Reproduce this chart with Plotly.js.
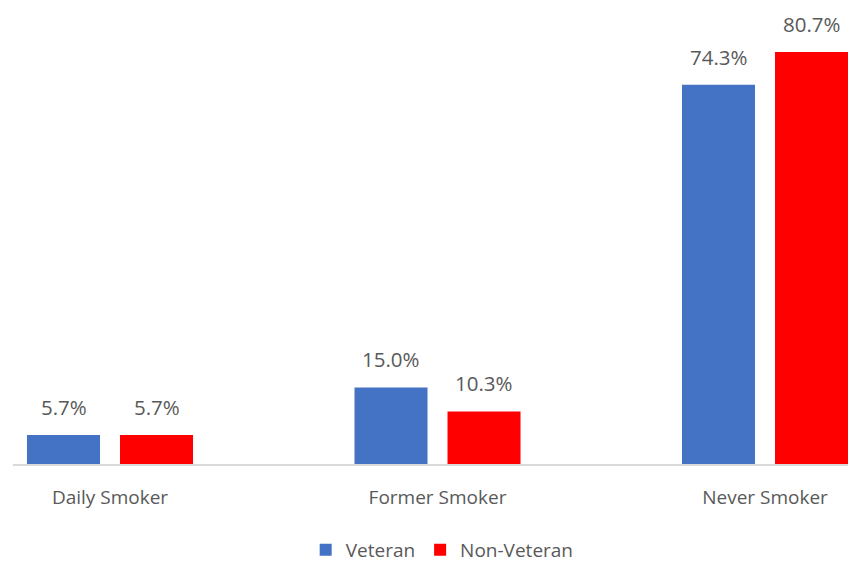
<!DOCTYPE html>
<html><head><meta charset="utf-8">
<script src="https://cdn.plot.ly/plotly-3.0.1.min.js"></script>
<style>html,body{margin:0;padding:0;background:#fff;}#chart{width:848px;height:563px;}</style>
</head><body><div id="chart"></div>
<script>
const categories = ["Daily Smoker", "Former Smoker", "Never Smoker"];
const veteran = [5.7, 15.0, 74.3];
const nonVeteran = [5.7, 10.3, 80.7];
const seriesNames = ["Veteran", "Non-Veteran"];
const colors = ["#4472C4", "#FF0000"];

const fontFam = "Open Sans, Noto Sans, sans-serif";
const traces = [veteran, nonVeteran].map((vals, i) => ({
  type: "bar", x: categories, y: vals, name: seriesNames[i],
  marker: {color: colors[i]}, hoverinfo: "none"
}));

const annotations = [];
[veteran, nonVeteran].forEach((vals, i) => {
  vals.forEach((v, j) => {
    annotations.push({
      x: categories[j], y: v, xref: "x", yref: "y",
      text: v.toFixed(1) + "%", showarrow: false,
      xshift: i === 0 ? -46.5 : 46.5, yshift: 12, yanchor: "bottom",
      font: {family: fontFam, size: 20.5, color: "#595959"}
    });
  });
});

const layout = {
  width: 848, height: 563,
  margin: {l: 13, r: 0, t: 0, b: 99, autoexpand: false},
  paper_bgcolor: "#fff", plot_bgcolor: "#fff",
  barmode: "group", bargap: 0.432, bargroupgap: 0.215,
  xaxis: {
    type: "category", range: [-0.2962, 2.2534], automargin: false,
    showline: true, linecolor: "#d9d9d9", linewidth: 2,
    showgrid: false, zeroline: false, ticks: "",
    ticklabelstandoff: 15,
    tickfont: {family: fontFam, size: 19, color: "#595959"}
  },
  yaxis: {range: [0, 90.9], visible: false, showgrid: false, zeroline: false},
  showlegend: true,
  legend: {
    orientation: "h", x: 0.514, xanchor: "center", y: -0.185, yanchor: "middle",
    font: {family: fontFam, size: 19, color: "#595959"},
    itemwidth: 30, tracegroupgap: 0
  },
  annotations: annotations
};
Plotly.newPlot("chart", traces, layout, {displayModeBar: false, staticPlot: true});
</script></body></html>
